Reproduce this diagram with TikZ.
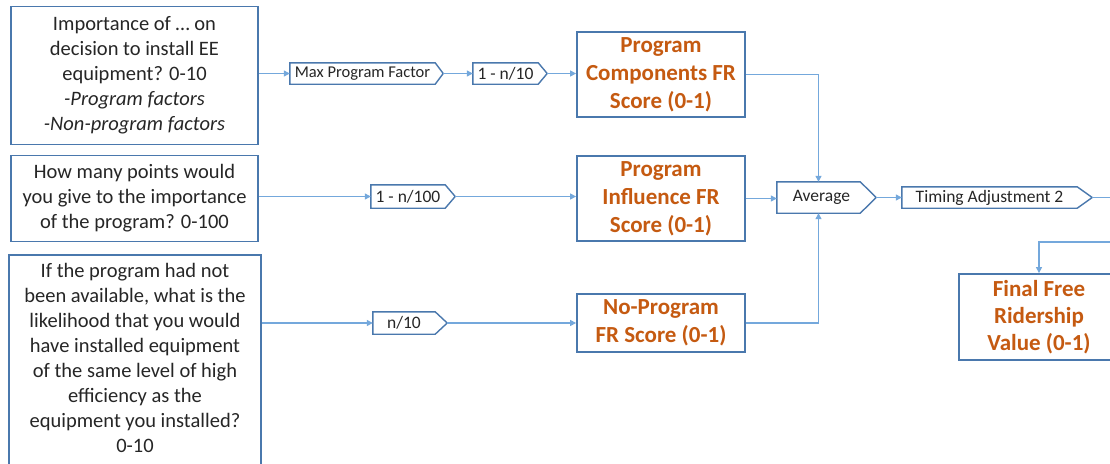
\documentclass[tikz,border=0pt]{standalone}
\usepackage{fontspec}
\setmainfont{Carlito}
\usetikzlibrary{arrows.meta}
\definecolor{boxblue}{HTML}{4A78AD}
\definecolor{lineblue}{HTML}{74A8DC}
\definecolor{orangetxt}{HTML}{C55A11}
\definecolor{txt}{HTML}{262626}
\tikzset{
  qbox/.style={draw=boxblue, line width=1.8pt, fill=white, inner sep=0pt, align=center, text=txt,
    font=\fontsize{20.5}{25}\selectfont},
  scorebox/.style={draw=boxblue, line width=1.8pt, fill=white, inner sep=0pt, align=center,
    text=orangetxt, font=\fontsize{23}{28}\selectfont\bfseries},
  lab/.style={inner sep=0pt, text=txt, font=\fontsize{17.5}{20}\selectfont},
  labedge/.style={draw=boxblue, line width=1.4pt, line join=miter},
  conn/.style={draw=lineblue, line width=1.2pt, -{Triangle[length=6pt,width=6pt]}},
  plainconn/.style={draw=lineblue, line width=1.2pt}
}
\begin{document}
\begin{tikzpicture}[x=1pt,y=-1pt]
\useasboundingbox (0,0) rectangle (1110,463);
\fill[white] (0,0) rectangle (1110,463);
\begin{scope}
\clip (0,0) rectangle (1110,463);

% question boxes
\node[qbox, minimum width=247, minimum height=138] (q1) at (134.5,75.5)
  {Importance of \dots\ on\\decision to install EE\\equipment? 0-10\\\textit{-Program factors}\\\textit{-Non-program factors}};
\node[qbox, minimum width=247, minimum height=86] (q2) at (134.5,198.5)
  {How many points would\\you give to the importance\\of the program? 0-100};
\node[qbox, minimum width=252, minimum height=230] (q3) at (135,370)
  {If the program had not\\been available, what is the\\likelihood that you would\\have installed equipment\\of the same level of high\\efficiency as the\\equipment you installed?\\0-10\\\mbox{}};

% score boxes
\node[scorebox, minimum width=168, minimum height=85] (pc) at (661,74.5)
  {Program\\Components FR\\Score (0-1)};
\node[scorebox, minimum width=168, minimum height=85] (pi) at (661,198.5)
  {Program\\Influence FR\\Score (0-1)};
\node[scorebox, minimum width=168, minimum height=58] (np) at (661,323)
  {No-Program\\FR Score (0-1)};
\node[scorebox, font=\fontsize{23}{27}\selectfont\bfseries, minimum width=160, minimum height=86] (fin) at (1039,317)
  {Final Free\\Ridership\\Value (0-1)};

% pentagon labels
\node[lab, font=\fontsize{16.5}{20}\selectfont, minimum width=145, minimum height=21] (mpf) at (362.5,73.5) {Max Program Factor};
\draw[labedge] (mpf.north west) -- (mpf.north east) -- ([xshift=8pt]mpf.east) coordinate (mpft) -- (mpf.south east) -- (mpf.south west) -- cycle;

\node[lab, minimum width=65, minimum height=21] (n10a) at (505.5,73.5) {1 - n/10};
\draw[labedge] (n10a.north west) -- (n10a.north east) -- ([xshift=9pt]n10a.east) coordinate (n10at) -- (n10a.south east) -- (n10a.south west) -- cycle;

\node[lab, minimum width=74, minimum height=23] (n100) at (408,196.5) {1 - n/100};
\draw[labedge] (n100.north west) -- (n100.north east) -- ([xshift=10pt]n100.east) coordinate (n100t) -- (n100.south east) -- (n100.south west) -- cycle;

\node[lab, minimum width=62, minimum height=22] (n10b) at (404,323) {n/10};
\draw[labedge] (n10b.north west) -- (n10b.north east) -- ([xshift=12pt]n10b.east) coordinate (n10bt) -- (n10b.south east) -- (n10b.south west) -- cycle;

\node[lab, minimum width=83, minimum height=31] (avg) at (818.5,197.5) {\hspace{6pt}Average};
\draw[labedge] (avg.north west) -- (avg.north east) -- ([xshift=16pt]avg.east) coordinate (avgt) -- (avg.south east) -- (avg.south west) -- cycle;

\node[lab, minimum width=175, minimum height=21] (tim) at (989.5,197.5) {Timing Adjustment 2};
\draw[labedge] (tim.north west) -- (tim.north east) -- ([xshift=15pt]tim.east) coordinate (timt) -- (tim.south east) -- (tim.south west) -- cycle;

% free ends at the right edge
\coordinate (outR) at (1112,197.5);
\coordinate (inR) at (1112,242);

% connectors
\draw[conn] (q1.east |- mpf.west) -- (mpf.west);
\draw[conn] (mpft) -- (n10a.west);
\draw[conn] (n10at) -- (pc.west |- n10at);
\draw[conn] (q2.east |- n100.west) -- (n100.west);
\draw[conn] (n100t) -- (pi.west |- n100t);
\draw[conn] (q3.east |- n10b.west) -- (n10b.west);
\draw[conn] (n10bt) -- (np.west);
\draw[conn] (pc.east) -| (avg.north);
\draw[conn] (pi.east) -- (avg.west |- pi.east);
\draw[conn] (np.east) -| (avg.south);
\draw[conn] (avgt) -- (tim.west);
\draw[plainconn] (timt) -- (outR);
\draw[conn] (inR) -| (fin.north);
\end{scope}
\end{tikzpicture}
\end{document}
